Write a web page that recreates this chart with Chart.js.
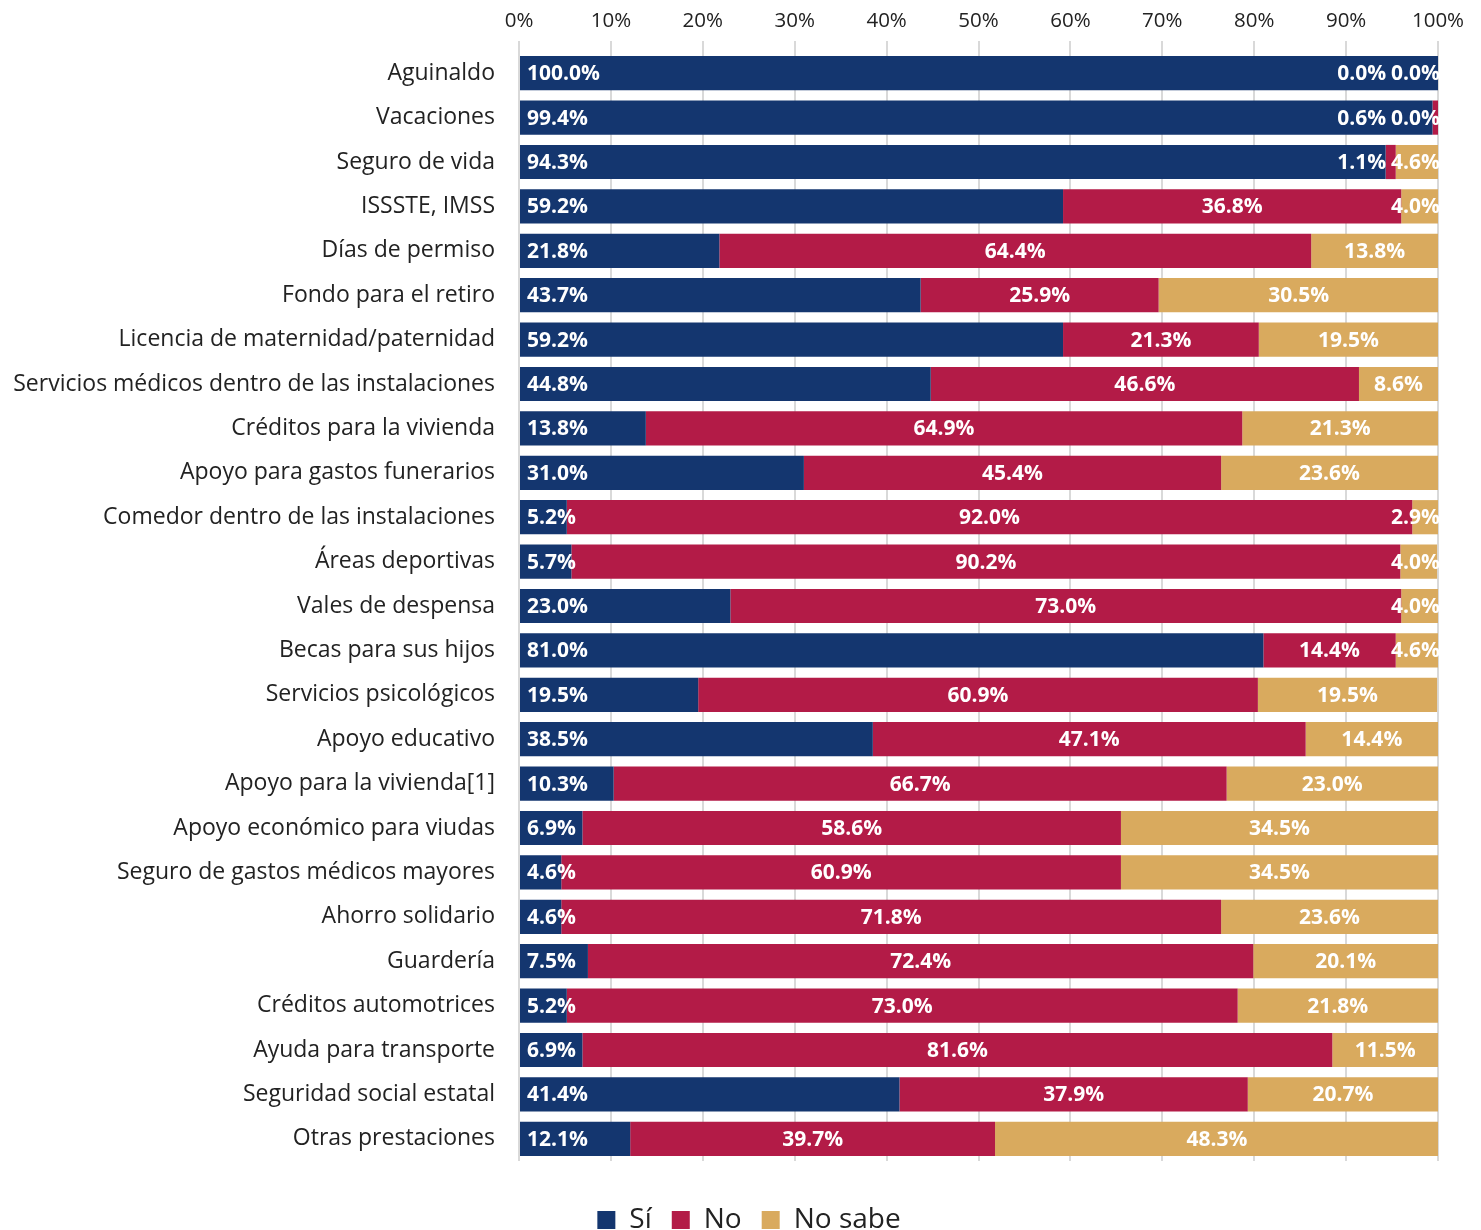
<!DOCTYPE html>
<html lang="es">
<head>
<meta charset="utf-8">
<title>Prestaciones</title>
<script src="https://cdn.jsdelivr.net/npm/chart.js@4.4.1/dist/chart.umd.min.js"></script>
<style>
  html, body { margin: 0; padding: 0; background: #fff; }
  #grafico { display: block; }
</style>
</head>
<body>
<canvas id="grafico" width="1481" height="1230"></canvas>
<script>
// Categorías (de arriba hacia abajo)
const categorias = [
	"Aguinaldo",
	"Vacaciones",
	"Seguro de vida",
	"ISSSTE, IMSS",
	"Días de permiso",
	"Fondo para el retiro",
	"Licencia de maternidad/paternidad",
	"Servicios médicos dentro de las instalaciones",
	"Créditos para la vivienda",
	"Apoyo para gastos funerarios",
	"Comedor dentro de las instalaciones",
	"Áreas deportivas",
	"Vales de despensa",
	"Becas para sus hijos",
	"Servicios psicológicos",
	"Apoyo educativo",
	"Apoyo para la vivienda[1]",
	"Apoyo económico para viudas",
	"Seguro de gastos médicos mayores",
	"Ahorro solidario",
	"Guardería",
	"Créditos automotrices",
	"Ayuda para transporte",
	"Seguridad social estatal",
	"Otras prestaciones"
];

// Porcentajes por respuesta
const si = [100.0, 99.4, 94.3, 59.2, 21.8, 43.7, 59.2, 44.8, 13.8, 31.0, 5.2, 5.7, 23.0, 81.0, 19.5, 38.5, 10.3, 6.9, 4.6, 4.6, 7.5, 5.2, 6.9, 41.4, 12.1];
const no = [0.0, 0.6, 1.1, 36.8, 64.4, 25.9, 21.3, 46.6, 64.9, 45.4, 92.0, 90.2, 73.0, 14.4, 60.9, 47.1, 66.7, 58.6, 60.9, 71.8, 72.4, 73.0, 81.6, 37.9, 39.7];
const noSabe = [0.0, 0.0, 4.6, 4.0, 13.8, 30.5, 19.5, 8.6, 21.3, 23.6, 2.9, 4.0, 4.0, 4.6, 19.5, 14.4, 23.0, 34.5, 34.5, 23.6, 20.1, 21.8, 11.5, 20.7, 48.3];

// Marcas del eje
const marcas = [0, 10, 20, 30, 40, 50, 60, 70, 80, 90, 100];

const FUENTE = "'Open Sans', 'DejaVu Sans', sans-serif";

// Etiquetas blancas dentro de las barras
const etiquetas = {
	id: "etiquetas",
	afterLayout(chart) {
		// leyenda un poco corrida a la derecha, como en el original
		chart.legend.left += 30;
		chart.legend.right += 30;
	},
	afterDatasetsDraw(chart) {
		const ctx = chart.ctx;
		const area = chart.chartArea;
		const m0 = chart.getDatasetMeta(0).data;
		const m1 = chart.getDatasetMeta(1).data;
		const m2 = chart.getDatasetMeta(2).data;
		ctx.save();
		ctx.fillStyle = "#ffffff";
		ctx.font = "bold 21px " + FUENTE;
		ctx.textBaseline = "middle";
		for (let i = 0; i < categorias.length; i++) {
			const y = m0[i].y + 1;
			const txt0 = si[i].toFixed(1) + "%";
			const txt1 = no[i].toFixed(1) + "%";
			const txt2 = noSabe[i].toFixed(1) + "%";

			// No sabe: centrada, sin pasar del borde derecho
			const w2 = ctx.measureText(txt2).width;
			const c2 = (m2[i].base + m2[i].x) / 2;
			const der2 = Math.min(c2 + w2 / 2, area.right + 2);
			ctx.textAlign = "right";
			ctx.fillText(txt2, der2, y);

			// No: centrada, antes de la etiqueta siguiente
			const w1 = ctx.measureText(txt1).width;
			const c1 = (m1[i].base + m1[i].x) / 2;
			const der1 = Math.min(c1 + w1 / 2, der2 - w2 - 5);
			ctx.fillText(txt1, der1, y);

			// Sí: al inicio de la barra
			ctx.textAlign = "left";
			ctx.fillText(txt0, m0[i].base + 7, y);
		}
		ctx.restore();
	}
};

const data = {
	labels: categorias,
	datasets: [
		{ label: "Sí", data: si, backgroundColor: "#14366f" },
		{ label: "No", data: no, backgroundColor: "#b31b47" },
		{ label: "No sabe", data: noSabe, backgroundColor: "#d9aa5e" }
	]
};

const config = {
	type: "bar",
	data: data,
	options: {
		indexAxis: "y",
		responsive: false,
		animation: false,
		layout: { padding: { top: 0, right: 43, bottom: -14, left: 0 } },
		datasets: {
			bar: { categoryPercentage: 1, barPercentage: 0.77, borderWidth: 0 }
		},
		scales: {
			x: {
				position: "top",
				stacked: true,
				min: 0,
				max: 100,
				afterBuildTicks(scale) {
					scale.ticks = marcas.map(v => ({ value: v }));
				},
				afterFit(scale) { scale.height = 51; },
				ticks: {
					callback: v => v + "%",
					color: "#222",
					font: { family: FUENTE, size: 20.5 },
					padding: 8,
					maxRotation: 0
				},
				grid: { color: "#d9d9d9", lineWidth: 2, tickLength: 10 },
				border: { display: false }
			},
			y: {
				stacked: true,
				afterFit(scale) { scale.width = 519; },
				ticks: {
					color: "#222",
					font: { family: FUENTE, size: 23 },
					padding: 16
				},
				grid: { display: false },
				border: { display: false }
			}
		},
		plugins: {
			legend: {
				position: "bottom",
				title: { display: true, text: " ", font: { size: 10 }, padding: { top: 5, bottom: 8 } },
				labels: {
					color: "#222",
					font: { family: FUENTE, size: 28 },
					boxWidth: 18,
					boxHeight: 18,
					padding: 20
				}
			},
			tooltip: { enabled: false }
		}
	},
	plugins: [etiquetas]
};

const grafico = new Chart(document.querySelector("#grafico"), config);
</script>
</body>
</html>
